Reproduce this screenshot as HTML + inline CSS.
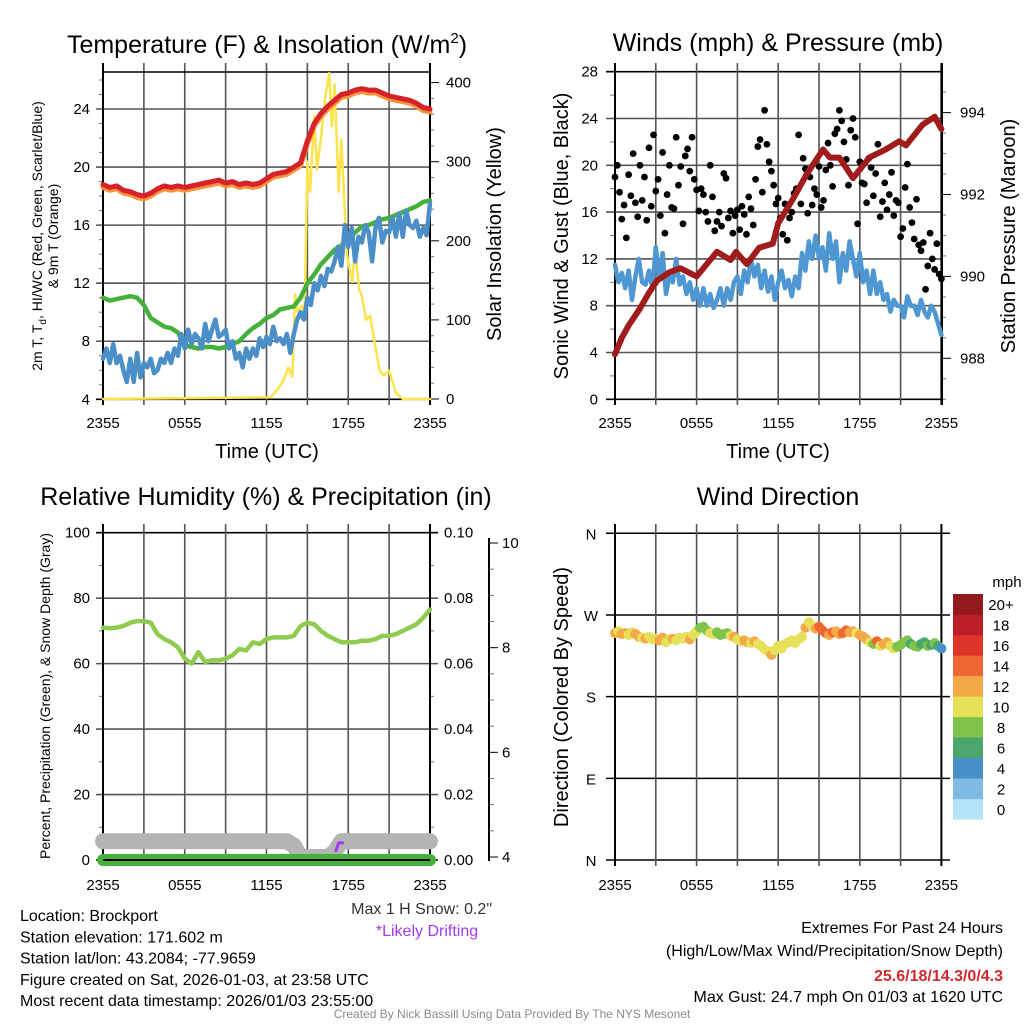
<!DOCTYPE html>
<html><head><meta charset="utf-8"><style>
html,body{margin:0;padding:0;background:#fff;}
svg{display:block;font-family:"Liberation Sans",Arial,sans-serif;}
</style></head><body>
<svg id="s" width="1024" height="1024" viewBox="0 0 1024 1024" xmlns="http://www.w3.org/2000/svg"></svg>
<script>
// ---------- DATA ----------
const tempRed=[18.8,18.6,18.7,18.4,18.3,18.1,18.0,18.2,18.5,18.7,18.6,18.7,18.6,18.7,18.8,18.9,19.0,19.1,18.9,19.0,18.8,18.9,18.8,18.9,19.2,19.5,19.6,19.7,20.0,20.3,21.8,23.0,23.7,24.2,24.6,25.0,25.1,25.3,25.4,25.3,25.3,25.1,24.9,24.8,24.7,24.6,24.4,24.1,24.0];
const tempOrange=[18.6,18.4,18.5,18.2,18.1,17.9,17.8,18.0,18.3,18.5,18.4,18.5,18.4,18.5,18.6,18.7,18.8,18.9,18.7,18.8,18.6,18.7,18.6,18.7,19.0,19.3,19.4,19.5,19.8,20.1,21.6,22.8,23.5,24.0,24.4,24.8,24.9,25.1,25.2,25.1,25.1,24.9,24.7,24.6,24.5,24.4,24.2,23.9,23.8];
const dewGreen=[11.0,10.8,10.9,11.0,11.1,11.0,10.5,9.6,9.3,9.0,8.9,8.6,7.7,7.6,7.5,7.6,7.6,7.5,7.6,7.8,8.0,8.5,8.9,9.2,9.6,9.8,10.2,10.3,10.4,11.0,12.0,12.6,13.3,13.8,14.3,14.6,15.0,15.5,15.9,16.0,16.2,16.4,16.5,16.7,16.9,17.1,17.3,17.6,17.7];
const rh=[71,70.8,71,71.5,72.5,73,73,72.5,69,67.5,66.5,65,61.5,60,63.5,60.5,61,61,61.5,62.5,64.5,64,66.5,66,67.5,68,68,68,68.5,71.5,72.5,72,70,68.5,67.5,66.5,66.5,66.5,67,67,67.5,68.5,68.5,69,70,71,72,74,76.5];
const snowDepth=[4.3,4.3,4.3,4.3,4.3,4.3,4.3,4.3,4.3,4.3,4.3,4.3,4.3,4.3,4.3,4.3,4.3,4.3,4.3,4.3,4.3,4.3,4.3,4.3,4.3,4.3,4.3,4.3,4.22,4.0,4.0,4.0,4.0,4.0,4.1,4.3,4.3,4.3,4.3,4.3,4.3,4.3,4.3,4.3,4.3,4.3,4.3,4.3,4.3];
const precip=[0,0,0,0,0,0,0,0,0,0,0,0,0,0,0,0,0,0,0,0,0,0,0,0,0,0,0,0,0,0,0,0,0,0,0,0,0,0,0,0,0,0,0,0,0,0,0,0,0];
const pressHours=[0,0.5,1,1.8,2.5,3.1,4,4.8,6,7,7.5,8.5,8.9,9.7,10.6,11.6,12,13.1,14.1,15.3,15.8,16.5,17.5,18.7,19.9,20.9,21.4,22.6,23.5,24];
const pressure=[988.1,988.5,988.8,989.2,989.6,989.9,990.1,990.2,990.0,990.4,990.6,990.4,990.6,990.3,990.7,990.8,991.3,991.9,992.5,993.1,992.9,992.9,992.4,992.9,993.1,993.3,993.2,993.7,993.9,993.6];
const windChill=[6.8,7.5,6.5,7.8,6.5,7,6,5.2,6.8,5.2,7.2,5.5,6.5,6.2,6.8,5.8,6,6.8,6.5,7.2,6.5,7.5,7,8.5,7.5,8.8,7.8,8.5,8.2,7.5,9.2,8,8.8,9.5,8.3,8.5,8.8,7.5,8,6.8,7.2,6.2,7.5,6.8,7.5,7,8.2,7.6,8.3,7.8,9,8,8.2,7.8,8.5,7.2,8.5,9.5,10,9.5,11,10.5,12,11.5,12.5,11.8,13,12.8,13.5,14.5,13.2,16,14.5,15.8,13.5,15.2,14.8,16,15.5,13.5,15.8,16.5,14.8,15.6,15.5,16.5,15.2,16.8,15.2,17,16,15.8,16.3,15.2,15.8,15.3,17.5];
const windSpeed=[11.5,10,10.8,9.5,11,8.5,10.5,12,10,9.8,11,9.5,13,10.5,12.5,9,10.5,10,12,9.8,10.5,9,10,8.5,9.5,8,9.5,8,9,7.8,8.5,9.5,8,9.5,8.5,10,10.5,9,11,10,12,10.5,11.5,9.5,11,9.2,10.5,8.5,10,11,9.5,10.2,8.8,10.5,9.5,12.5,11,13.5,12,14,12,13,11,14.2,12,13.5,10,12.5,11,13.5,12,10.5,12.5,10,11,9,11,9,10,8.5,9,7.5,8.5,8,8,7,8.8,8,8,7.2,8.5,7.5,7,8,7.5,6.5,5.5];
const windDir=[250,252,249,250,248,251,249,246,245,244,246,243,244,242,245,240,243,244,242,245,244,246,243,248,252,256,257,253,250,249,251,248,249,250,247,246,243,241,242,240,239,241,238,236,232,230,226,231,236,233,238,240,242,239,243,246,256,262,258,255,257,253,250,248,251,252,249,250,253,251,252,250,248,246,243,240,238,241,236,238,240,236,233,235,237,240,242,238,236,235,238,240,236,237,239,236,233];
const dirSpeed=[12,11,12,12,10,11,13,12,11,12,11,10,10,12,13,11,10,12,11,10,11,10,12,11,10,9,8,9,10,11,8,9,8,9,11,12,10,11,12,13,11,12,11,10,10,11,12,10,11,10,10,11,11,10,11,10,12,10,11,12,14,15,14,13,15,12,13,14,15,12,13,11,12,13,12,11,9,14,11,12,13,10,11,9,8,9,8,7,9,8,7,7,8,7,8,6,4];
const solarHours=[0,12.3,12.8,13.2,13.6,13.9,14.1,14.3,14.6,14.8,15.0,15.2,15.5,15.7,16.0,16.3,16.6,16.8,17.0,17.3,17.5,17.9,18.3,18.5,18.8,19.0,19.3,19.6,20.0,20.3,20.6,21.0,21.5,22.0,24];
const solar=[0,2,12,22,40,28,132,110,118,108,300,262,358,290,330,380,412,345,398,262,328,182,148,190,138,130,100,105,65,36,30,36,8,0,0];
const gust=[19,20,17.7,15.4,16.6,13.8,19.2,17.4,21,16.8,15.6,20,17,19,15.3,21.5,16.5,22.6,17.8,18.8,15.7,21.1,14.2,17.5,20,16.4,16.3,22.4,18.3,19.9,15,20.8,21.4,19.5,22.4,18.8,17.9,16.1,18,17.5,16,15.2,20,17.3,14.4,15.2,16,14.8,19.3,18.9,15.5,16.1,14.2,15.7,16.2,14.5,16.5,15.8,14.1,17.3,16.3,14.9,18.8,21.6,22.2,17.7,24.7,21.8,20.3,19.5,18.3,16.7,17.2,15.5,14.1,16.7,13.6,15.5,16,17.6,18,22.6,16.7,20.6,19.7,15.9,19,16.6,18,17.5,19.9,16.4,17,19.6,21.9,20,18.2,22.7,23.1,24.7,23.8,22,20.5,18.3,23,24,22.4,15,20.3,18.5,18.4,16.8,20.6,19.8,17.4,19.3,21.8,15.6,16.9,18.5,16.2,17.5,19.4,15.7,17,16.8,13.9,14.6,18.1,20.1,16.4,15.1,13.7,17.1,13.2,12.7,13.4,9.4,11.4,14.2,12,11.1,13.3,10.7,10.3];
const drift=[[17.1,4.12],[17.3,4.27],[17.6,4.27]];
const xTickLabels=["2355","","0555","","1155","","1755","","2355"];
const tempTicks=[4,8,12,16,20,24];
const solarTicks=[0,100,200,300,400];
const windTicks=[0,4,8,12,16,20,24,28];
const pressTicks=[988,990,992,994];
const rhTicks=[0,20,40,60,80,100];
const prTicks=["0.00","0.02","0.04","0.06","0.08","0.10"];
const snowTicks=[4,6,8,10];
const dirTicks=["N","E","S","W","N"];
const cbLabels=["0","2","4","6","8","10","12","14","16","18","20+"];
const cbColors=["#b5e3f7","#7fbae3","#4a90c8","#4aa66d","#7fc34b","#e6e05b","#f5a946","#ee6631","#dc3429","#bb1e26","#92191c"];

// ---------- helpers ----------
const NS="http://www.w3.org/2000/svg";
const svg=document.getElementById('s');
function el(tag,attrs,parent){const e=document.createElementNS(NS,tag);for(const k in attrs)e.setAttribute(k,attrs[k]);(parent||svg).appendChild(e);return e;}
function txt(str,x,y,size,anchor,parent,extra){const t=el('text',Object.assign({x:x,y:y,'font-size':size,'text-anchor':anchor||'middle',fill:'#000'},extra||{}),parent);t.textContent=str;return t;}
function poly(pts,stroke,w,parent){return el('polyline',{points:pts.map(p=>p[0].toFixed(1)+','+p[1].toFixed(1)).join(' '),fill:'none',stroke:stroke,'stroke-width':w,'stroke-linejoin':'round','stroke-linecap':'round'},parent);}
function cbin(v){let i=Math.floor(v/2);if(i<0)i=0;if(i>10)i=10;return cbColors[i];}

const hx1=h=>103+h*13.625;
const hx2=h=>615+h*13.6;
const yT=v=>399.3-(v-4)*14.515;
const ySol=v=>399-v*0.791;
const yW=v=>399.3-v*11.7;
const yP=v=>358.3-(v-988)*40.95;
const yRH=v=>860-v*3.273;
const yPr=v=>860-v*3273;
const ySn=v=>857-(v-4)*52.33;
const yD=d=>860-d*0.9075;

function vgrid(g,hx,y0,y1,ext){
  for(let i=0;i<9;i++){const x=hx(i*3);el('line',{x1:x,x2:x,y1:y0-ext,y2:y1+6,stroke:(i==0||i==8)?'#000':'#555','stroke-width':(i==0||i==8)?2:1.6},g);}
}
function xlabels(g,hx,y){
  xTickLabels.forEach((l,i)=>{if(l)txt(l,hx(i*3),y,15,'middle',g);});
}
const half=i=>i*0.5;
const qtr=i=>i*0.25;

// ================= PANEL 1 =================
const g1=el('g',{});


tempTicks.forEach(v=>{el('line',{x1:96,x2:430,y1:yT(v),y2:yT(v),stroke:(v==4)?'#000':'#555','stroke-width':1.6},g1);txt(String(v),90,yT(v)+5,15,'end',g1);});
for(let v=5;v<27;v++){if(v%4)el('line',{x1:99,x2:103,y1:yT(v),y2:yT(v),stroke:'#777','stroke-width':1},g1);}
for(let v=0;v<=410;v+=20){el('line',{x1:430,x2:v%100?434:439,y1:ySol(v),y2:ySol(v),stroke:v%100?'#777':'#000','stroke-width':1},g1);}
solarTicks.forEach(v=>txt(String(v),446,ySol(v)+5,15,'start',g1));
vgrid(g1,hx1,72,399,9);
el('line',{x1:103,x2:430,y1:72,y2:72,stroke:'#000','stroke-width':1.5},g1);
el('line',{x1:103,x2:103,y1:63,y2:405,stroke:'#000','stroke-width':2},g1);
el('line',{x1:430,x2:430,y1:63,y2:405,stroke:'#000','stroke-width':2},g1);
xlabels(g1,hx1,428);
const sl=poly(solarHours.map((h,i)=>[hx1(h),ySol(solar[i])]),'#fde34b',2.5,g1);


const gl=poly(dewGreen.map((v,i)=>[hx1(half(i)),yT(v)]),'#43b13a',4.5,g1);


const bl=poly(windChill.map((v,i)=>[hx1(qtr(i)),yT(v)]),'#4a8fc8',4.5,g1);


const ol=poly(tempOrange.map((v,i)=>[hx1(half(i)),yT(v)]),'#f5923a',5,g1);


const rl=poly(tempRed.map((v,i)=>[hx1(half(i)),yT(v)]),'#d62228',5,g1);


const t1=txt('',267,53,25,'middle',g1);
t1.innerHTML='Temperature (F) &amp; Insolation (W/m<tspan dy="-10" font-size="15">2</tspan><tspan dy="10">)</tspan>';


const xt1=txt('Time (UTC)',267,458,20,'middle',g1);


const yt1=el('text',{transform:'translate(42,236) rotate(-90)','font-size':14,'text-anchor':'middle'},g1);
yt1.innerHTML='2m T, T<tspan dy="4" font-size="10">d</tspan><tspan dy="-4">, HI/WC (Red, Green, Scarlet/Blue)</tspan>';


const yt1b=txt('& 9m T (Orange)',0,0,14,'middle',g1,{transform:'translate(58,236) rotate(-90)'});


const yr1=txt('Solar Insolation (Yellow)',0,0,20,'middle',g1,{transform:'translate(501,234) rotate(-90)'});



// ================= PANEL 2 =================
const g2=el('g',{});


windTicks.forEach(v=>{el('line',{x1:606,x2:942,y1:yW(v),y2:yW(v),stroke:(v==0||v==28)?'#000':'#555','stroke-width':1.6},g2);txt(String(v),598,yW(v)+5,15,'end',g2);});
for(let v=2;v<28;v+=4){el('line',{x1:610,x2:615,y1:yW(v),y2:yW(v),stroke:'#777','stroke-width':1},g2);}
for(let v=987;v<=994.8;v+=0.5){el('line',{x1:942,x2:(v%2==0)?951:946,y1:yP(v),y2:yP(v),stroke:(v%2==0)?'#000':'#777','stroke-width':1},g2);}
pressTicks.forEach(v=>txt(String(v),960,yP(v)+5,15,'start',g2));
vgrid(g2,hx2,72,399,9);
el('line',{x1:615,x2:615,y1:63,y2:405,stroke:'#000','stroke-width':2},g2);
el('line',{x1:942,x2:942,y1:63,y2:405,stroke:'#000','stroke-width':2},g2);
xlabels(g2,hx2,428);
const wl=poly(windSpeed.map((v,i)=>[hx2(qtr(i)),yW(v)]),'#4f97d3',4.5,g2);


gust.forEach((v,i)=>{const c=el('circle',{cx:hx2(i/6),cy:yW(v),r:3.4,fill:'#000'},g2);
  
  });
const pl=poly(pressHours.map((h,i)=>[hx2(h),yP(pressure[i])]),'#a01c1c',6,g2);


const t2=txt('Winds (mph) & Pressure (mb)',778,51,25,'middle',g2);


const xt2=txt('Time (UTC)',778,458,20,'middle',g2);


const yl2=txt('Sonic Wind & Gust (Blue, Black)',0,0,20,'middle',g2,{transform:'translate(568,236) rotate(-90)'});


const yr2=txt('Station Pressure (Maroon)',0,0,20,'middle',g2,{transform:'translate(1015,236) rotate(-90)'});



// ================= PANEL 3 =================
const g3=el('g',{});


rhTicks.forEach(v=>{el('line',{x1:96,x2:438,y1:yRH(v),y2:yRH(v),stroke:(v==0||v==100)?'#000':'#555','stroke-width':1.6},g3);txt(String(v),90,yRH(v)+5,15,'end',g3);});
for(let v=10;v<100;v+=20){el('line',{x1:99,x2:103,y1:yRH(v),y2:yRH(v),stroke:'#777','stroke-width':1},g3);el('line',{x1:430,x2:434,y1:yRH(v),y2:yRH(v),stroke:'#777','stroke-width':1},g3);}
prTicks.forEach((l,i)=>txt(l,444,yRH(i*20)+5,15,'start',g3));
el('line',{x1:489,x2:489,y1:538,y2:861,stroke:'#000','stroke-width':2},g3);
for(let v=4;v<=10.01;v+=0.5){el('line',{x1:489,x2:(v%2==0)?498:494,y1:ySn(v),y2:ySn(v),stroke:(v%2==0)?'#000':'#777','stroke-width':1},g3);}
snowTicks.forEach(v=>txt(String(v),502,ySn(v)+5,15,'start',g3));
vgrid(g3,hx1,533,860,9);
el('line',{x1:103,x2:103,y1:524,y2:866,stroke:'#000','stroke-width':2},g3);
el('line',{x1:430,x2:430,y1:524,y2:866,stroke:'#000','stroke-width':2},g3);
xlabels(g3,hx1,890);
const sd=poly(snowDepth.map((v,i)=>[hx1(half(i)),ySn(v)]),'#b4b4b4',16,g3);


const pr=poly(precip.map((v,i)=>[hx1(half(i)),yPr(v)]),'#43b13a',12,g3);


el('line',{x1:103,x2:430,y1:860,y2:860,stroke:'#000','stroke-width':2},g3);
const dr=poly(drift.map(p=>[hx1(p[0]),ySn(p[1])]),'#a23bf0',3,g3);


const rl3=poly(rh.map((v,i)=>[hx1(half(i)),yRH(v)]),'#8ecb4f',4.5,g3);


const t3=txt('Relative Humidity (%) & Precipitation (in)',266,505,25,'middle',g3);


const yl3=txt('Percent, Precipitation (Green), & Snow Depth (Gray)',0,0,14,'middle',g3,{transform:'translate(50,696) rotate(-90)'});


const ms=txt('Max 1 H Snow: 0.2"',492,914,16,'end',g3,{fill:'#333'});


const ld=txt('*Likely Drifting',427,936,16,'middle',g3,{fill:'#a23bf0'});



// ================= PANEL 4 =================
const g4=el('g',{});


dirTicks.forEach((l,i)=>{el('line',{x1:606,x2:950,y1:yD(i*90),y2:yD(i*90),stroke:'#000','stroke-width':1.5},g4);txt(l,591,yD(i*90)+6,15,'middle',g4);});
vgrid(g4,hx2,533,860,9);
xlabels(g4,hx2,890);
windDir.forEach((d,i)=>{const c=el('circle',{cx:hx2(qtr(i)),cy:yD(d),r:5,fill:cbin(dirSpeed[i])},g4);
  
  });
const t4=txt('Wind Direction',778,505,25,'middle',g4);


const yl4=txt('Direction (Colored By Speed)',0,0,20,'middle',g4,{transform:'translate(568,697) rotate(-90)'});


const cb=el('g',{},g4);


cbColors.forEach((c,i)=>{const y=799-i*20.5;el('rect',{x:953,y:y,width:30,height:20.6,fill:c},cb);txt(cbLabels[i],1001,y+16,15,'middle',cb);});
txt('mph',1007,587,15,'middle',cb);

// ================= Footer =================
const info=['Location: Brockport','Station elevation: 171.602 m','Station lat/lon: 43.2084; -77.9659','Figure created on Sat, 2026-01-03, at 23:58 UTC','Most recent data timestamp: 2026/01/03 23:55:00'];
info.forEach((s,i)=>{const t=txt(s,20,921+i*21.3,16,'start');});
const e1=txt('Extremes For Past 24 Hours',1003,933,16,'end');


const e2=txt('(High/Low/Max Wind/Precipitation/Snow Depth)',1003,956,16,'end');


const e3=txt('25.6/18/14.3/0/4.3',1003,981,16,'end',null,{fill:'#d12a2f','font-weight':'bold'});


const e4=txt('Max Gust: 24.7 mph On 01/03 at 1620 UTC',1003,1002,16,'end');


const cr=txt('Created By Nick Bassill Using Data Provided By The NYS Mesonet',512,1018,12,'middle',null,{fill:'#8a8a8a'});


</script>
</body></html>
